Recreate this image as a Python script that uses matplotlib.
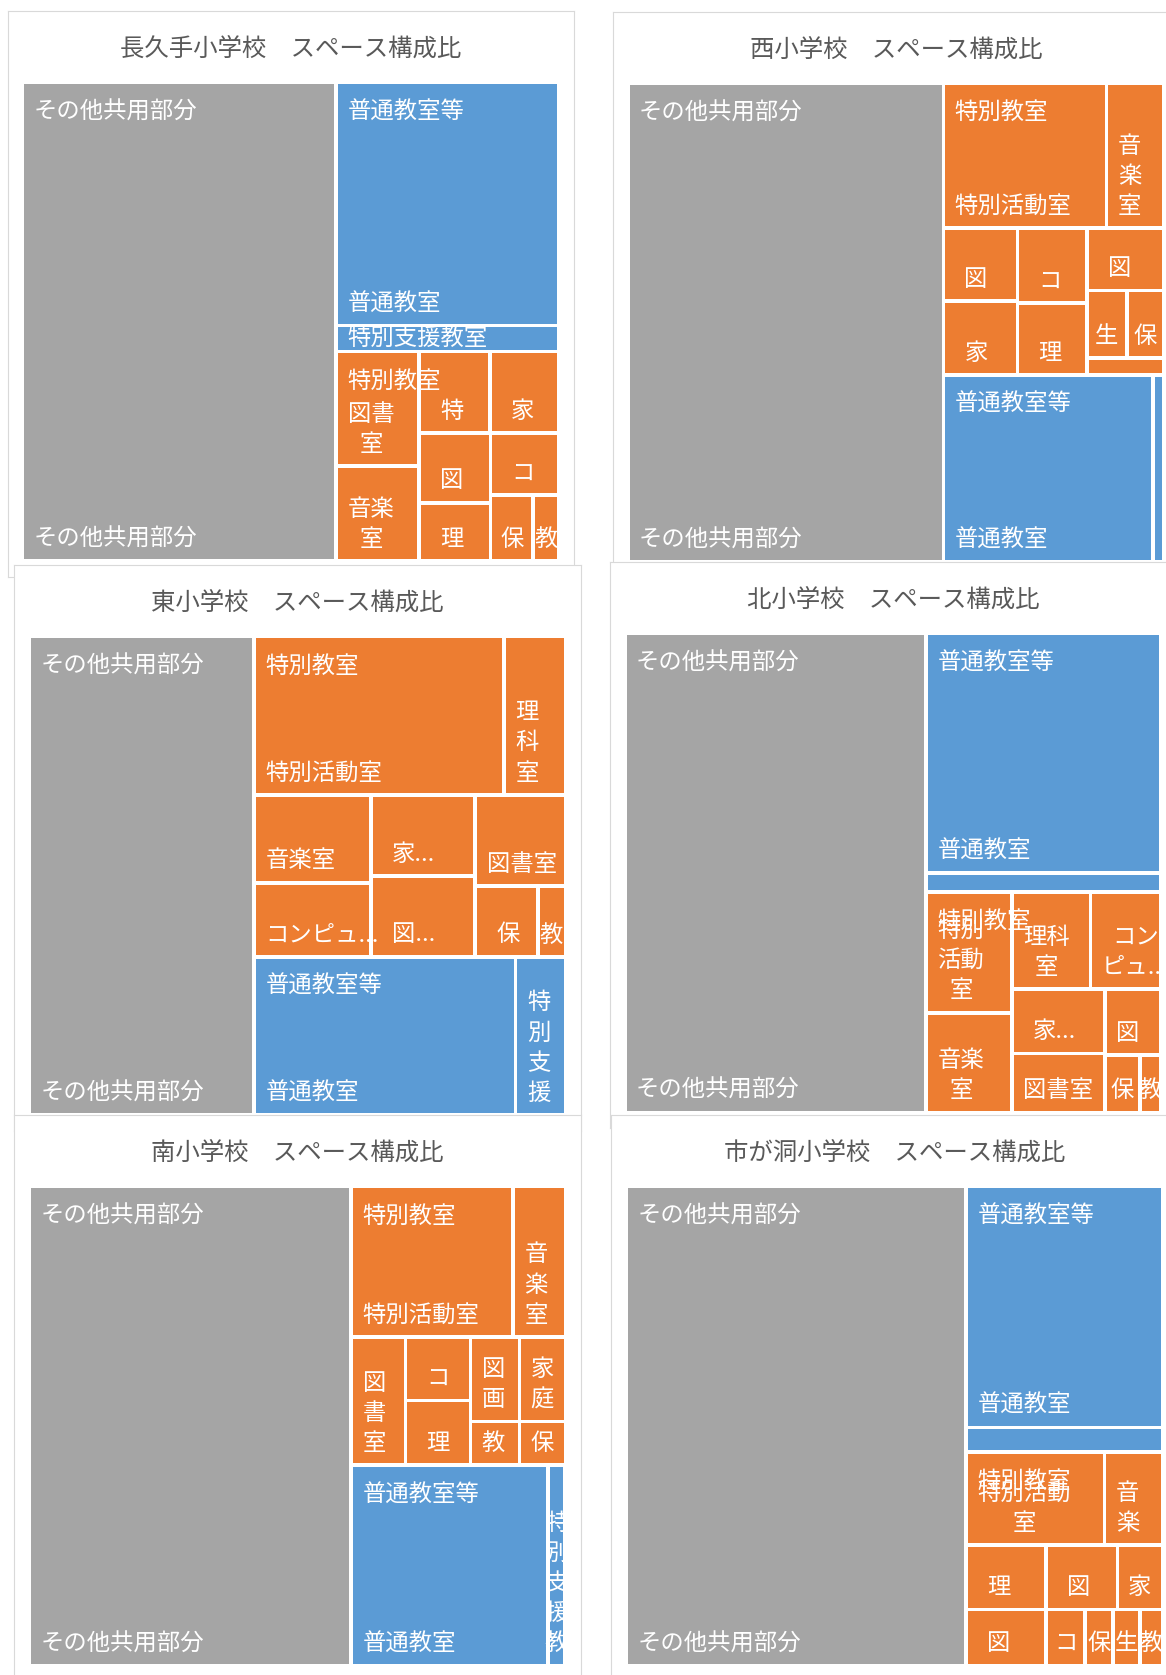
import matplotlib
matplotlib.use("Agg")
import matplotlib.pyplot as plt
from matplotlib.patches import Rectangle
from matplotlib.font_manager import FontProperties

FONT = ['Noto Sans CJK JP', 'DejaVu Sans']
plt.rcParams['font.family'] = FONT

# ---- data (share of floor space, %) ----
schools = ["長久手小学校", "西小学校", "東小学校", "北小学校", "南小学校", "市が洞小学校"]

other_share = [58.57, 58.87, 41.97, 56.22, 60.08, 63.46]

# 普通教室等: 普通教室, 特別支援教室
regular_share = [[21.04, 2.26], [15.27, 0.81], [16.14, 3.07],
                 [21.89, 1.76], [15.33, 1.36], [18.38, 1.85]]
regular_labels = [
    ["普通教室", "特別支援教室"],
    ["普通教室", "特別支援教室"],
    ["普通教室", "特\n別\n支\n援"],
    ["普通教室", "特別支援教室"],
    ["普通教室", "特\n別\n支\n援\n教"],
    ["普通教室", "特別支援教室"],
]

# 特別教室
special_labels = [
    ["図書\n室", "音楽\n室", "特", "家", "図", "理", "コ", "保", "教"],
    ["特別活動室", "音\n楽\n室", "図", "家", "コ", "理", "図", "生", "保", "教"],
    ["特別活動室", "理\n科\n室", "音楽室", "コンピュ...", "家...", "図...", "図書室", "保", "教"],
    ["特別\n活動\n室", "音楽\n室", "理科\n室", "コン\nピュ...", "家...", "図書室", "図", "保", "教"],
    ["特別活動室", "音\n楽\n室", "図\n書\n室", "コ", "理", "図\n画", "家\n庭", "教", "保"],
    ["特別活動\n室", "音\n楽", "理", "図", "図", "家", "コ", "保", "生", "教"],
]
special_share = [
    [3.70, 3.07, 2.25, 2.16, 1.93, 1.62, 1.65, 1.10, 0.65],
    [9.20, 3.26, 2.10, 2.12, 2.02, 1.93, 1.88, 1.06, 0.97, 0.51],
    [15.42, 3.80, 3.99, 3.36, 3.31, 3.27, 3.21, 1.72, 0.75],
    [4.02, 3.32, 2.97, 2.67, 2.33, 2.13, 1.44, 0.78, 0.48],
    [9.48, 3.06, 2.71, 1.60, 1.64, 1.61, 1.51, 0.83, 0.78],
    [5.02, 2.10, 2.01, 1.74, 1.79, 1.13, 0.85, 0.60, 0.59, 0.49],
]
# strip structure of the treemap (orientation + number of items per strip)
special_strips = ["v2 h2 v2 h1 h2", "h2 v2 v2 h1 h2 h1", "h2 v2 v2 h1 h2",
                  "v2 h2 v2 h1 h2", "h2 v1 v2 h2 h2", "h2 v2 h2 h4"]

# ---- layout / style ----
FIG_W, FIG_H = 1166, 1675
PANEL_W, PANEL_H = 566.5, 565.5
PANEL_POS = [(7.5, 11.1), (613.1, 12.0), (14.3, 565.1),
             (610.2, 562.2), (14.3, 1115.4), (611.3, 1115.4)]
GAP = 3.7
TREE = (16.4 - GAP / 2, 73.0 - GAP / 2, 532.8 + GAP, 475.3 + GAP)
PAD = 9.5
GRAY, BLUE, ORANGE = '#A5A5A5', '#5B9BD5', '#ED7D31'
LABEL_FS = 16.8
TITLE_FS = 17.6
LINESP = 1.40


def strip_layout(values, spec, x, y, w, h):
    rects = []
    i = 0
    for token in spec.split():
        orient, n = token[0], int(token[1:])
        chunk = values[i:i + n]
        csum = sum(chunk)
        frac = csum / sum(values[i:])
        if orient == 'a':
            orient = 'h' if w < h else 'v'
        if orient == 'v':
            cw = w * frac
            yy = y
            for v in chunk:
                ch = h * v / csum
                rects.append((x, yy, cw, ch))
                yy += ch
            x += cw
            w -= cw
        else:
            rh = h * frac
            xx = x
            for v in chunk:
                cw = w * v / csum
                rects.append((xx, y, cw, rh))
                xx += cw
            y += rh
            h -= rh
        i += n
    return rects


fig = plt.figure(figsize=(FIG_W / 100, FIG_H / 100), dpi=100)
renderer = fig.canvas.get_renderer()
lp_d = renderer.get_text_width_height_descent(
    'lp', FontProperties(family=FONT, size=LABEL_FS), ismath=False)[2]


def leaf_label(ax, rect, text, patch):
    x, y, w, h = rect
    vx, vy, vw, vh = x + GAP / 2, y + GAP / 2, w - GAP, h - GAP
    if vh < 21.2 or vw < 12:
        return
    t = ax.text(0, 0, text, fontsize=LABEL_FS, color='white', ha='left',
                va='bottom', multialignment='center', linespacing=LINESP)
    bb = t.get_window_extent(renderer=renderer)
    lines = text.split('\n')
    one_char = max(len(s.replace('...', '')) for s in lines) == 1
    if one_char and bb.width + 2 * PAD > vw:
        t.set_ha('center')
        tx = vx + vw / 2
    elif one_char and len(lines) == 1 and vw >= 59:
        tx = vx + 19
    else:
        tx = vx + PAD
    if bb.height > vh - 8:
        t.set_va('center')
        ty = vy + vh / 2
    else:
        ty = vy + vh - 13.4 + lp_d
    t.set_position((tx, ty))
    t.set_clip_path(patch)


for i, school in enumerate(schools):
    px, py = PANEL_POS[i]
    ax = fig.add_axes([px / FIG_W, 1 - (py + PANEL_H) / FIG_H,
                       PANEL_W / FIG_W, PANEL_H / FIG_H])
    ax.set_zorder(i)
    ax.set_xlim(0, PANEL_W)
    ax.set_ylim(PANEL_H, 0)
    ax.set_xticks([])
    ax.set_yticks([])
    for s in ax.spines.values():
        s.set_color('#D9D9D9')
        s.set_linewidth(0.8)

    ax.text(PANEL_W / 2, 44.3, school + '　スペース構成比', fontsize=TITLE_FS,
            color='#595959', ha='center', va='baseline')

    groups = [
        ("その他共用部分", GRAY, [other_share[i]], ["その他共用部分"], "a1"),
        ("普通教室等", BLUE, regular_share[i], regular_labels[i], "a1 a1"),
        ("特別教室", ORANGE, special_share[i], special_labels[i], special_strips[i]),
    ]
    groups.sort(key=lambda g: -sum(g[2]))
    group_rects = strip_layout([sum(g[2]) for g in groups], "a1 a1 a1", *TREE)

    for (gname, color, vals, labels, spec), grect in zip(groups, group_rects):
        for lrect, lab in zip(strip_layout(vals, spec, *grect), labels):
            x, y, w, h = lrect
            p = Rectangle((x + GAP / 2, y + GAP / 2), w - GAP, h - GAP,
                          facecolor=color, edgecolor='none')
            ax.add_patch(p)
            leaf_label(ax, lrect, lab, p)
        gx, gy, gw, gh = grect
        gclip = Rectangle((gx + GAP / 2, gy + GAP / 2), gw - GAP, gh - GAP,
                          fill=False, edgecolor='none')
        ax.add_patch(gclip)
        gt = ax.text(gx + GAP / 2 + PAD, gy + GAP / 2 + 34.4, gname,
                     fontsize=LABEL_FS, color='white', ha='left', va='baseline')
        gt.set_clip_path(gclip)

fig.savefig('out.png', dpi=100)
